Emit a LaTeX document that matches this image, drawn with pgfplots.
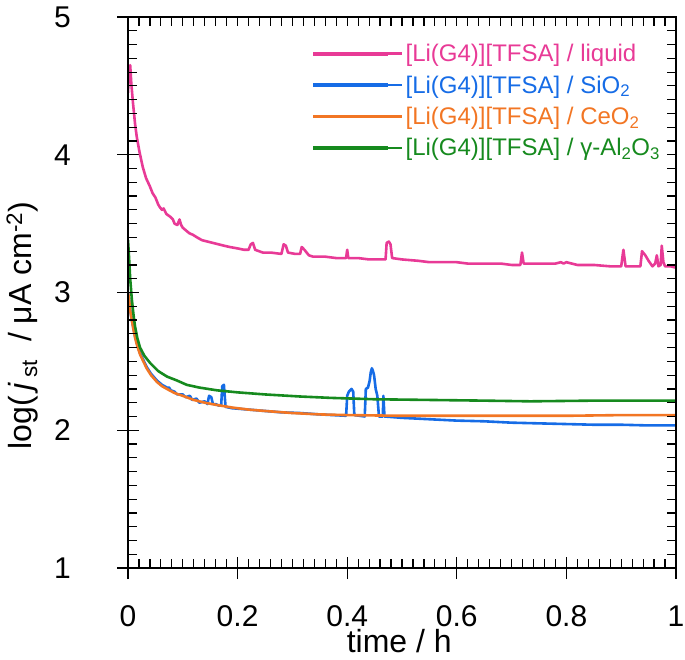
\documentclass[border=0pt]{standalone}
\usepackage{fontspec}
\setmainfont{Liberation Sans}
\usepackage{pgfplots}
\pgfplotsset{compat=1.18}

\definecolor{cliq}{RGB}{232,58,150}
\definecolor{csio}{RGB}{22,108,230}
\definecolor{cceo}{RGB}{242,118,36}
\definecolor{calo}{RGB}{22,138,30}

\pgfplotsset{
  base/.style={
    scale only axis, width=548pt, height=551pt,
    xmin=0, xmax=1, ymin=1, ymax=5,
    xtick={0,0.2,0.4,0.6,0.8,1}, ytick={1,2,3,4,5},
    minor x tick num=9, minor y tick num=9,
    axis line style={line width=1.2pt, black},
    tick style={line width=1.2pt, black},
  },
}

\begin{document}
\begin{tikzpicture}
\begin{axis}[
  base, name=ax,
  xtick pos=bottom, ytick pos=left,
  tick align=center,
  major tick length=22pt, minor tick length=0pt,
  xticklabels={0,0.2,0.4,0.6,0.8,1},
  yticklabels={1,2,3,4,5},
  xticklabel style={font=\fontsize{30}{36}\selectfont, anchor=base, inner sep=0pt, yshift=-47pt},
  yticklabel style={font=\fontsize{30}{36}\selectfont, anchor=east, inner sep=0pt, xshift=-46pt},
  xlabel={time / h},
  ylabel={log(\,\textit{j}\,\textsubscript{st}\ \ / μA cm\textsuperscript{-2})},
  xlabel style={font=\fontsize{32}{38}\selectfont, at={(axis description cs:0.495,-0.1525)}, anchor=base, inner sep=0pt},
  ylabel style={font=\fontsize{32}{38}\selectfont, at={(axis description cs:-0.193,0.44)}, anchor=center, inner sep=0pt},
  legend style={at={(axis description cs:0.329,0.958)}, anchor=north west,
    draw=none, fill=none, font=\fontsize{24}{29}\selectfont, row sep=8.5pt,
    cells={anchor=west}},
  legend image code/.code={\draw[#1, line width=3.6pt] (0pt,0pt) -- (75pt,0pt); \path (75pt,0pt) -- (89pt,0pt);},
  every axis plot/.append style={line width=2.6pt, line join=round},
]

\addplot[cliq] coordinates {
(0,4.45) (0.002,4.62) (0.004,4.65) (0.006,4.52) (0.009,4.38) (0.013,4.22)
(0.016,4.13) (0.021,4.02) (0.027,3.91) (0.033,3.83) (0.04,3.77) (0.045,3.72)
(0.05,3.69) (0.055,3.64) (0.058,3.62) (0.062,3.60) (0.065,3.61) (0.07,3.57)
(0.077,3.55) (0.082,3.53) (0.085,3.50) (0.09,3.49) (0.094,3.53) (0.097,3.49)
(0.1,3.47) (0.106,3.45) (0.112,3.43) (0.118,3.42) (0.126,3.40) (0.135,3.38)
(0.145,3.37) (0.155,3.36) (0.165,3.35) (0.175,3.34) (0.186,3.33) (0.2,3.32)
(0.212,3.31) (0.22,3.31) (0.224,3.35) (0.228,3.36) (0.232,3.31) (0.246,3.29)
(0.26,3.29) (0.28,3.28) (0.284,3.35) (0.288,3.34) (0.292,3.29) (0.305,3.28)
(0.314,3.28) (0.317,3.33) (0.322,3.31) (0.33,3.27) (0.338,3.26) (0.36,3.26)
(0.38,3.25) (0.398,3.25) (0.4,3.31) (0.402,3.25) (0.42,3.25) (0.44,3.24)
(0.46,3.24) (0.47,3.24) (0.472,3.36) (0.476,3.37) (0.479,3.35) (0.482,3.25)
(0.5,3.24) (0.53,3.23) (0.55,3.22) (0.58,3.22) (0.6,3.22) (0.62,3.21)
(0.64,3.21) (0.68,3.21) (0.7,3.20) (0.716,3.20) (0.719,3.29) (0.722,3.21)
(0.75,3.21) (0.78,3.21) (0.79,3.22) (0.795,3.21) (0.8,3.22) (0.82,3.20)
(0.85,3.20) (0.88,3.19) (0.9,3.19) (0.904,3.31) (0.908,3.19) (0.935,3.19)
(0.938,3.30) (0.944,3.27) (0.95,3.23) (0.957,3.19) (0.962,3.21) (0.965,3.27)
(0.968,3.19) (0.972,3.20) (0.974,3.34) (0.977,3.22) (0.98,3.19) (0.99,3.19)
(1.0,3.18)
};
\addlegendentry{\textcolor{cliq}{[Li(G4)][TFSA] / liquid}}

\addplot[csio] coordinates {
(0,3.0) (0.002,2.95) (0.004,2.87) (0.007,2.80) (0.01,2.74) (0.013,2.68)
(0.017,2.62) (0.022,2.56) (0.028,2.51) (0.034,2.46) (0.042,2.41) (0.053,2.36)
(0.062,2.33) (0.071,2.31) (0.075,2.31) (0.078,2.29) (0.085,2.28) (0.09,2.26)
(0.1,2.26) (0.105,2.24) (0.113,2.25) (0.117,2.22) (0.125,2.23) (0.13,2.20)
(0.14,2.21) (0.145,2.19) (0.148,2.25) (0.152,2.24) (0.155,2.19) (0.16,2.19)
(0.165,2.18) (0.17,2.18) (0.172,2.32) (0.175,2.33) (0.178,2.17) (0.19,2.16)
(0.22,2.15) (0.25,2.14) (0.28,2.13) (0.314,2.125) (0.35,2.115) (0.398,2.105)
(0.4,2.25) (0.403,2.28) (0.408,2.30) (0.411,2.28) (0.413,2.11) (0.432,2.10)
(0.434,2.30) (0.438,2.31) (0.441,2.36) (0.443,2.42) (0.445,2.45) (0.447,2.43)
(0.449,2.40) (0.452,2.30) (0.455,2.25) (0.458,2.10) (0.465,2.10) (0.466,2.25)
(0.468,2.10) (0.5,2.09) (0.55,2.08) (0.6,2.07) (0.65,2.065) (0.7,2.055)
(0.75,2.05) (0.8,2.045) (0.85,2.04) (0.9,2.04) (0.95,2.035) (1.0,2.035)
};
\addlegendentry{\textcolor{csio}{[Li(G4)][TFSA] / SiO\textsubscript{2}}}

\addplot[cceo] coordinates {
(0,3.0) (0.002,2.95) (0.004,2.87) (0.007,2.80) (0.01,2.73) (0.013,2.67)
(0.017,2.61) (0.022,2.55) (0.028,2.50) (0.034,2.45) (0.042,2.40) (0.053,2.35)
(0.062,2.32) (0.071,2.30) (0.085,2.27) (0.1,2.25) (0.12,2.22) (0.14,2.20)
(0.16,2.185) (0.19,2.165) (0.22,2.15) (0.25,2.14) (0.3,2.125) (0.35,2.115)
(0.4,2.11) (0.5,2.105) (0.6,2.105) (0.7,2.105) (0.8,2.105) (0.9,2.11) (1.0,2.11)
};
\addlegendentry{\textcolor{cceo}{[Li(G4)][TFSA] / CeO\textsubscript{2}}}

\addplot[calo] coordinates {
(0,3.38) (0.002,3.25) (0.004,3.10) (0.007,2.95) (0.01,2.84) (0.013,2.75)
(0.017,2.67) (0.022,2.60) (0.03,2.54) (0.04,2.49) (0.055,2.43) (0.071,2.39)
(0.09,2.36) (0.107,2.33) (0.13,2.31) (0.162,2.29) (0.2,2.275) (0.25,2.26)
(0.314,2.245) (0.37,2.235) (0.45,2.225) (0.55,2.22) (0.65,2.215) (0.734,2.21)
(0.85,2.215) (1.0,2.215)
};
\addlegendentry{\textcolor{calo}{[Li(G4)][TFSA] / γ-Al\textsubscript{2}O\textsubscript{3}}}
\end{axis}

\begin{axis}[
  base,
  xtick pos=both, ytick pos=both,
  tick align=inside,
  major tick length=9pt, minor tick length=9pt,
  xticklabels={}, yticklabels={},
]
\end{axis}

\pgfresetboundingbox
\path ([shift={(-128pt,-91pt)}]ax.south west) rectangle ++(685pt,659pt);
\end{tikzpicture}
\end{document}
